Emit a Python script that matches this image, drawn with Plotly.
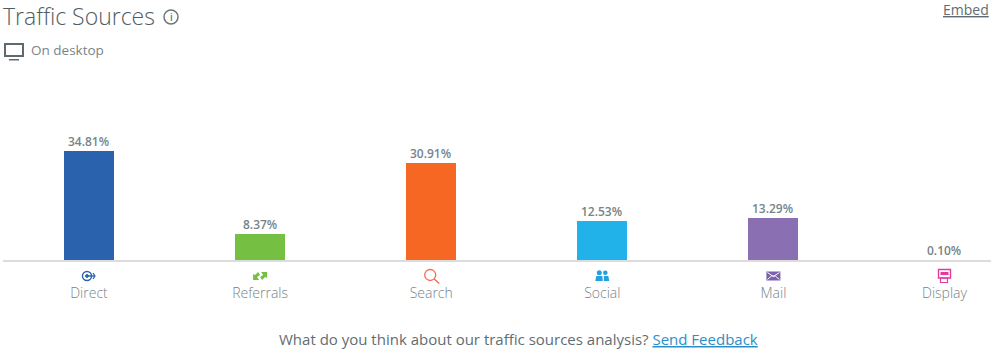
import plotly.graph_objects as go

categories = ["Direct", "Referrals", "Search", "Social", "Mail", "Display"]
shares = [34.81, 8.37, 30.91, 12.53, 13.29, 0.10]
bar_colors = ["#2a62ae", "#75c043", "#f56723", "#22b2ea", "#8a70b3", "#e6399b"]
bar_opacity = [1, 1, 1, 1, 1, 0]

W, H = 1000, 359
L, R, T, B = 3, 9, 60, 99
STEP = 171.1
BAR = 50
X_FIRST = 89
PLOT_W = W - L - R
PLOT_H = H - T - B
X_RANGE = [-(X_FIRST - L) / STEP, (W - R - X_FIRST) / STEP]
PX_PER_UNIT = 109.5 / 34.81

fig = go.Figure(go.Bar(
    x=list(range(len(categories))), y=shares,
    width=BAR / STEP,
    marker=dict(color=bar_colors, line_width=0, opacity=bar_opacity),
    cliponaxis=False, hoverinfo="skip",
))

for i, v in enumerate(shares):
    fig.add_annotation(x=i, y=v, xref="x", yref="y", text=f"{v:.2f}%", showarrow=False,
                       xanchor="center", yanchor="bottom", yshift=-1, xshift=-0.5,
                       font=dict(family="Open Sans", size=12, color="#76848a", weight=600))

def px(x):
    return (x - L) / PLOT_W

def py(y):
    return (H - B - y) / PLOT_H

def label(x, y, text, size, color, anchor="left", weight=400):
    fig.add_annotation(xref="paper", yref="paper", x=px(x), y=py(y), text=text, showarrow=False,
                       xanchor=anchor, yanchor="middle",
                       font=dict(family="Open Sans", size=size, color=color, weight=weight),
                       borderpad=0, borderwidth=0)

def shape(path, stroke=None, fill="rgba(0,0,0,0)", w=1.5):
    fig.add_shape(type="path", xref="paper", yref="paper", path=path,
                  line=dict(color=stroke or "rgba(0,0,0,0)", width=w if stroke else 0), fillcolor=fill)

def P(*pts, close=False):
    s = "M" + " L".join(f"{px(a):.5f},{py(b):.5f}" for a, b in pts)
    return s + (" Z" if close else "")

def ring(cx, cy, r, stroke, w=1.5, fill="rgba(0,0,0,0)"):
    fig.add_shape(type="circle", xref="paper", yref="paper",
                  x0=px(cx - r), x1=px(cx + r), y0=py(cy + r), y1=py(cy - r),
                  line=dict(color=stroke, width=w), fillcolor=fill)

def box(x0, y0, x1, y1, stroke=None, fill="rgba(0,0,0,0)", w=1.5):
    fig.add_shape(type="rect", xref="paper", yref="paper",
                  x0=px(x0), x1=px(x1), y0=py(y1), y1=py(y0),
                  line=dict(color=stroke or "rgba(0,0,0,0)", width=w if stroke else 0), fillcolor=fill)

# Header
label(3, 16, "Traffic Sources", 23, "#4f5d63", weight=300)
ring(171, 17, 7, "#6b777c", 1.5)
label(171, 17, "i", 10, "#6b777c", anchor="center", weight=600)
box(5, 44, 23, 56, stroke="#5f6a70", w=2)
box(9, 59, 19, 60.5, fill="#5f6a70")
label(31, 50, "On desktop", 13.5, "#77858a")
label(989, 9, "<span style='text-decoration:underline'>Embed</span>", 14, "#5f6d73", anchor="right")

# Category icons
c = [X_FIRST + STEP * i for i in range(6)]
ICON_Y = 276
# Direct
ring(c[0] - 2, ICON_Y, 4.5, "#2a62ae", 1.4)
ring(c[0] - 2, ICON_Y, 1.4, "#2a62ae", 1, fill="#2a62ae")
shape(P((c[0] - 1, ICON_Y), (c[0] + 6, ICON_Y)), stroke="#2a62ae", w=1.4)
shape(P((c[0] + 4, ICON_Y - 3), (c[0] + 6, ICON_Y), (c[0] + 4, ICON_Y + 3)), stroke="#2a62ae", w=1.2)
# Referrals
g = "#75c043"
shape(P((c[1] - 7, ICON_Y + 4), (c[1] - 7, ICON_Y - 2), (c[1] - 5, ICON_Y - 1), (c[1] - 2, ICON_Y - 4), (c[1], ICON_Y - 1), (c[1] - 3, ICON_Y + 1), (c[1] - 1, ICON_Y + 4), close=True), fill=g)
shape(P((c[1] + 7, ICON_Y - 4), (c[1] + 7, ICON_Y + 2), (c[1] + 5, ICON_Y + 1), (c[1] + 2, ICON_Y + 4), (c[1], ICON_Y + 1), (c[1] + 3, ICON_Y - 1), (c[1] + 1, ICON_Y - 4), close=True), fill=g)
# Search
ring(c[2] - 1, 275, 5.5, "#f56a50", 1.3)
shape(P((c[2] + 3, 279), (c[2] + 8, 283.5)), stroke="#f56a50", w=1.5)
# Social
b = "#22a0e0"
ring(c[3] - 3, 272.8, 2.5, b, 0, fill=b)
ring(c[3] + 3, 272.8, 2.3, b, 0, fill=b)
shape(P((c[3] - 7, 281), (c[3] - 6, 276), (c[3], 276), (c[3] + 0.5, 281), close=True), fill=b)
shape(P((c[3] + 1.5, 281), (c[3] + 1.5, 276), (c[3] + 6, 276), (c[3] + 7, 281), close=True), fill=b)
# Mail
m = "#7b5fb0"
box(c[4] - 7, ICON_Y - 4.5, c[4] + 7, ICON_Y + 4.5, fill=m)
shape(P((c[4] - 6, ICON_Y - 3.5), (c[4], ICON_Y + 0.5), (c[4] + 6, ICON_Y - 3.5)), stroke="#ffffff", w=1)
shape(P((c[4] - 6, ICON_Y + 3.5), (c[4] - 2, ICON_Y), (c[4] + 2, ICON_Y), (c[4] + 6, ICON_Y + 3.5)), stroke="#ffffff", w=1)
# Display
p = "#e6399b"
box(c[5] - 6, 269.5, c[5] + 6, 278, stroke=p, w=1.4)
box(c[5] - 4, 272, c[5] + 4, 275, fill=p)
box(c[5] - 4, 278, c[5] + 3, 282.5, stroke=p, w=1.2)

# Footer
label(518, 339,
      "What do you think about our traffic sources analysis? "
      "<span style='color:#2a8fc9;text-decoration:underline'>Send Feedback</span>",
      15, "#5f6d73", anchor="center")

fig.update_layout(
    width=W, height=H, autosize=False, showlegend=False,
    paper_bgcolor="#ffffff", plot_bgcolor="#ffffff",
    margin=dict(l=L, r=R, t=T, b=B, pad=0),
    bargap=0,
    xaxis=dict(range=X_RANGE, tickmode="array", tickvals=list(range(6)), ticktext=categories,
               showgrid=False, zeroline=False, showline=True, linecolor="#dcdcdc", linewidth=1.5,
               ticks="", ticklabelstandoff=19,
               tickfont=dict(family="Open Sans", size=14, color="#76838a", weight=300)),
    yaxis=dict(range=[0, PLOT_H / PX_PER_UNIT], visible=False),
)

fig.write_html("out.html", config={"displayModeBar": False},
               post_script="document.body.style.margin='0';")
